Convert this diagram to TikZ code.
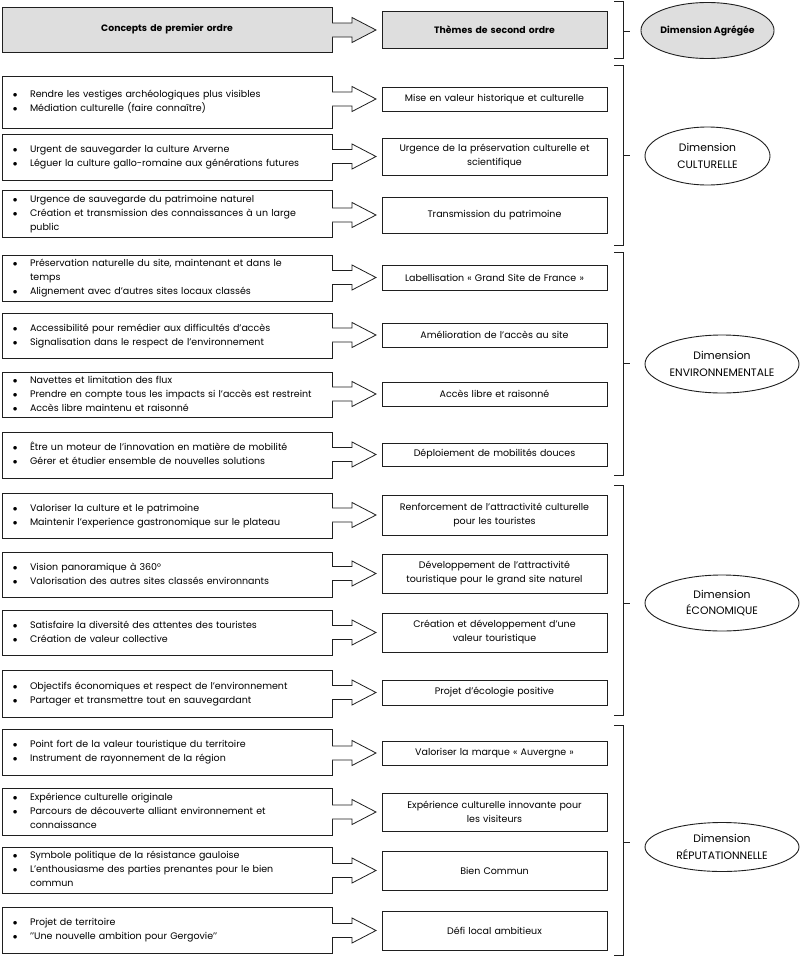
\documentclass[tikz,border=0pt]{standalone}
\usepackage{fontspec}
\setmainfont{Poppins}
\usetikzlibrary{shapes.geometric}
\definecolor{hdrgray}{gray}{0.87}
\definecolor{ink}{gray}{0.12}
\newcommand\txtfont{\fontsize{9.5}{14}\selectfont}
\newcommand\hdrfont{\fontsize{9.3}{14}\selectfont\bfseries}
\newcommand\dimfont{\fontsize{10.8}{16.5}\selectfont}
\newcommand\items[1]{\begin{tabular}{@{}p{17.5pt}@{}l@{}}#1\end{tabular}}
\newcommand\bu{\hspace*{0.5pt}$\bullet$&}
\tikzset{
  every node/.style={outer sep=0pt},
  boxline/.style={draw=ink, line width=0.9pt},
  lbox/.style={boxline, minimum width=330pt, text width=309pt, inner xsep=10.5pt, inner ysep=0pt, align=left, font=\txtfont},
  rbox/.style={boxline, minimum width=225pt, text width=215pt, inner xsep=5pt, inner ysep=0pt, align=center, font=\txtfont},
  hdr/.style={fill=hdrgray},
  dim/.style={ellipse, boxline, inner sep=0pt, align=center, font=\dimfont},
  arrowline/.style={draw=ink, line width=0.8pt, line join=miter},
  brk/.style={draw=ink, line width=0.9pt},
}
\newcommand\blockarrow[3][white]{%
  \path (#2.east |- #3.west) coordinate (ab);
  \fill[#1] (ab) ++(-1.5,-7) -- ++(21.5,0) -- ++(0,-5.5) -- ++(24,12.5) -- ++(-24,12.5) -- ++(0,-5.5) -- ++(-21.5,0) -- cycle;
  \draw[arrowline] (ab) ++(0,-7) -- ++(20,0) -- ++(0,-5.5) -- ++(24,12.5) -- ++(-24,12.5) -- ++(0,-5.5) -- ++(-20,0);
}
\newcommand\bracket[3]{% top, bottom, tick
  \draw[brk] (614,#1) -- (623,#1) -- (623,#2) -- (614,#2);
  \draw[brk] (623,#3) -- (630,#3);
}
\begin{document}
\begin{tikzpicture}[x=1pt,y=-1pt]
\useasboundingbox[fill=white] (0,0) rectangle (800,956);

% header
\node[lbox,hdr,minimum height=45pt,align=center,font=\hdrfont] (L0) at (167,29.5) {Concepts de premier ordre};
\node[rbox,hdr,minimum height=37pt,font=\hdrfont] (R0) at (494.5,30) {Thèmes de second ordre};

% left boxes
\node[lbox,minimum height=52pt] (L1) at (167,102) {\items{\bu Rendre les vestiges archéologiques plus visibles\\ \bu Médiation culturelle (faire connaître)}};
\node[lbox,minimum height=46pt] (L2) at (167,157) {\items{\bu Urgent de sauvegarder la culture Arverne\\ \bu Léguer la culture gallo-romaine aux générations futures}};
\node[lbox,minimum height=47pt] (L3) at (167,213.5) {\items{\bu Urgence de sauvegarde du patrimoine naturel\\ \bu Création et transmission des connaissances à un large\\ & public}};
\node[lbox,minimum height=46pt] (L4) at (167,278) {\items{\bu Préservation naturelle du site, maintenant et dans le\\ & temps\\ \bu Alignement avec d’autres sites locaux classés}};
\node[lbox,minimum height=45pt] (L5) at (167,335.5) {\items{\bu Accessibilité pour remédier aux difficultés d’accès\\ \bu Signalisation dans le respect de l’environnement}};
\node[lbox,minimum height=45pt] (L6) at (167,394.5) {\items{\bu Navettes et limitation des flux\\ \bu Prendre en compte tous les impacts si l’accès est restreint\\ \bu Accès libre maintenu et raisonné}};
\node[lbox,minimum height=46pt] (L7) at (167,455) {\items{\bu Être un moteur de l’innovation en matière de mobilité\\ \bu Gérer et étudier ensemble de nouvelles solutions}};
\node[lbox,minimum height=45pt] (L8) at (167,515.5) {\items{\bu Valoriser la culture et le patrimoine\\ \bu Maintenir l’experience gastronomique sur le plateau}};
\node[lbox,minimum height=45pt] (L9) at (167,574.5) {\items{\bu Vision panoramique à 360°\\ \bu Valorisation des autres sites classés environnants}};
\node[lbox,minimum height=45pt] (L10) at (167,632.5) {\items{\bu Satisfaire la diversité des attentes des touristes\\ \bu Création de valeur collective}};
\node[lbox,minimum height=47pt] (L11) at (167,693.5) {\items{\bu Objectifs économiques et respect de l’environnement\\ \bu Partager et transmettre tout en sauvegardant}};
\node[lbox,minimum height=46pt] (L12) at (167,752) {\items{\bu Point fort de la valeur touristique du territoire\\ \bu Instrument de rayonnement de la région}};
\node[lbox,minimum height=47pt] (L13) at (167,811.5) {\items{\bu Expérience culturelle originale\\ \bu Parcours de découverte alliant environnement et\\ & connaissance}};
\node[lbox,minimum height=46pt] (L14) at (167,870) {\items{\bu Symbole politique de la résistance gauloise\\ \bu L’enthousiasme des parties prenantes pour le bien\\ & commun}};
\node[lbox,minimum height=46pt] (L15) at (167,930) {\items{\bu Projet de territoire\\ \bu ’’Une nouvelle ambition pour Gergovie’’}};

% right boxes
\node[rbox,minimum height=24pt] (R1) at (494.5,99) {Mise en valeur historique et culturelle};
\node[rbox,minimum height=37pt] (R2) at (494.5,156.5) {Urgence de la préservation culturelle et\\ scientifique};
\node[rbox,minimum height=36pt] (R3) at (494.5,215) {Transmission du patrimoine};
\node[rbox,minimum height=25pt] (R4) at (494.5,277.5) {Labellisation « Grand Site de France »};
\node[rbox,minimum height=24pt] (R5) at (494.5,335) {Amélioration de l’accès au site};
\node[rbox,minimum height=24pt] (R6) at (494.5,394) {Accès libre et raisonné};
\node[rbox,minimum height=23pt] (R7) at (494.5,454.5) {Déploiement de mobilités douces};
\node[rbox,minimum height=40pt] (R8) at (494.5,515) {Renforcement de l’attractivité culturelle\\ pour les touristes};
\node[rbox,minimum height=39pt] (R9) at (494.5,573.5) {Développement de l’attractivité\\ touristique pour le grand site naturel};
\node[rbox,minimum height=39pt] (R10) at (494.5,632.5) {Création et développement d’une\\ valeur touristique};
\node[rbox,minimum height=25pt] (R11) at (494.5,692.5) {Projet d’écologie positive};
\node[rbox,minimum height=24pt] (R12) at (494.5,753) {Valoriser la marque « Auvergne »};
\node[rbox,minimum height=38pt] (R13) at (494.5,812) {Expérience culturelle innovante pour\\ les visiteurs};
\node[rbox,minimum height=39pt] (R14) at (494.5,870.5) {Bien Commun};
\node[rbox,minimum height=39pt] (R15) at (494.5,930.5) {Défi local ambitieux};

% arrows
\blockarrow[hdrgray]{L0}{R0}
\blockarrow{L1}{R1}
\blockarrow{L2}{R2}
\blockarrow{L3}{R3}
\blockarrow{L4}{R4}
\blockarrow{L5}{R5}
\blockarrow{L6}{R6}
\blockarrow{L7}{R7}
\blockarrow{L8}{R8}
\blockarrow{L9}{R9}
\blockarrow{L10}{R10}
\blockarrow{L11}{R11}
\blockarrow{L12}{R12}
\blockarrow{L13}{R13}
\blockarrow{L14}{R14}
\blockarrow{L15}{R15}

% brackets
\bracket{1}{58}{31.5}
\bracket{65}{245}{155}
\bracket{252}{475}{363.5}
\bracket{485}{715}{603}
\bracket{725}{955}{842}

% dimensions
\node[dim,hdr,minimum width=125pt,minimum height=56pt,font=\hdrfont] (E0) at (707.5,30.5) {Dimension Agrégée};
\node[dim,minimum width=125pt,minimum height=58pt] (E1) at (707.5,156) {Dimension\\ CULTURELLE};
\node[dim,minimum width=154pt,minimum height=58pt] (E2) at (722,364) {Dimension\\ ENVIRONNEMENTALE};
\node[dim,minimum width=154pt,minimum height=56pt] (E3) at (722,603) {Dimension\\ ÉCONOMIQUE};
\node[dim,minimum width=154pt,minimum height=49pt] (E4) at (722,847) {Dimension\\ RÉPUTATIONNELLE};
\end{tikzpicture}
\end{document}
